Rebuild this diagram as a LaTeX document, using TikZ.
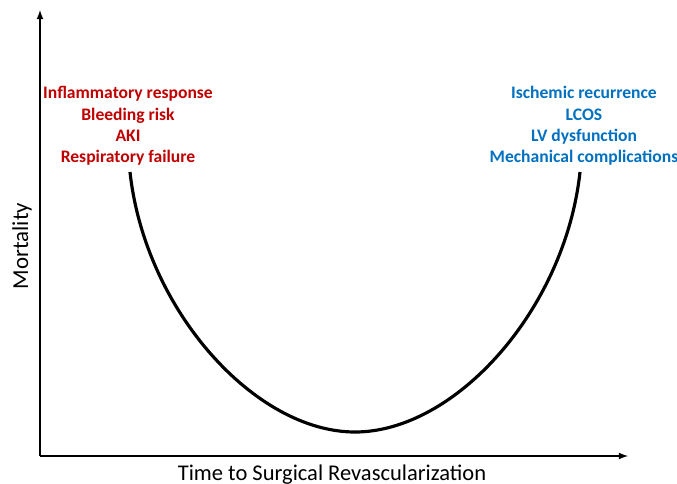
\documentclass[tikz,border=0pt]{standalone}
\usepackage{fontspec}
\setmainfont{Carlito}
\definecolor{riskred}{HTML}{C00000}
\definecolor{riskblue}{HTML}{0070C0}
\begin{document}
\begin{tikzpicture}[x=0.02cm, y=-0.02cm,
    axis/.style={line width=0.8pt, -latex},
    ucurve/.style={line width=1.8pt},
    risks/.style={font=\bfseries\fontsize{10}{12.1}\selectfont, align=center}
]
\useasboundingbox (0,0) rectangle (677,484);
% Assi
\coordinate (O) at (40,456);
\coordinate (ytop) at (40,10);
\coordinate (xend) at (628,456);
\draw[axis] (O) -- (ytop);
\draw[axis] (O) -- (xend);
\node[rotate=90, font=\fontsize{13}{15}\selectfont] (ylab) at (22,246) {Mortality};
\node[font=\fontsize{12.8}{15}\selectfont] (xlab) at (332,475) {Time to Surgical Revascularization};

% Curva
\coordinate (early) at (130,172);
\coordinate (best) at (355,432);
\coordinate (late) at (580,172);
\draw[ucurve] (early) .. controls (145,310) and (255,432) .. (best)
                      .. controls (455,432) and (565,310) .. (late);

% Rischi
\node[risks, text=riskred] (earlyrisk) at (128,126)
  {Inflammatory response\\Bleeding risk\\AKI\\Respiratory failure};
\node[risks, text=riskblue] (laterisk) at (584,126)
  {Ischemic recurrence\\LCOS\\LV dysfunction\\Mechanical complications};
\end{tikzpicture}
\end{document}
